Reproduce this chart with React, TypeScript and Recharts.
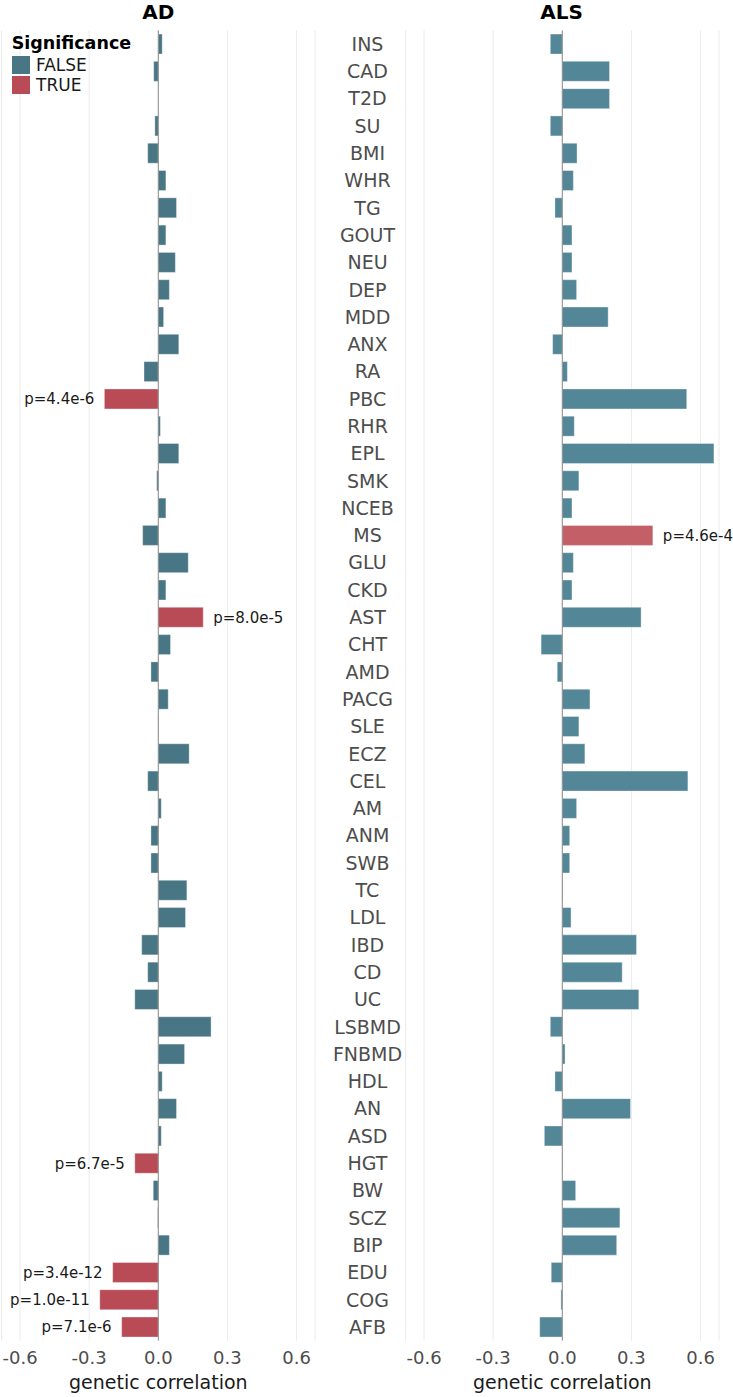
import React from 'react';
import {
  BarChart, Bar, XAxis, YAxis, CartesianGrid, ReferenceLine, Cell, LabelList,
} from 'recharts';

const categories = [
  'INS', 'CAD', 'T2D', 'SU', 'BMI', 'WHR', 'TG', 'GOUT', 'NEU', 'DEP', 'MDD', 'ANX',
  'RA', 'PBC', 'RHR', 'EPL', 'SMK', 'NCEB', 'MS', 'GLU', 'CKD', 'AST', 'CHT', 'AMD',
  'PACG', 'SLE', 'ECZ', 'CEL', 'AM', 'ANM', 'SWB', 'TC', 'LDL', 'IBD', 'CD', 'UC',
  'LSBMD', 'FNBMD', 'HDL', 'AN', 'ASD', 'HGT', 'BW', 'SCZ', 'BIP', 'EDU', 'COG', 'AFB',
];

// genetic correlation with AD
const adValues = [
  0.017, -0.02, 0.0, -0.015, -0.046, 0.033, 0.079, 0.033, 0.074, 0.048, 0.023, 0.089,
  -0.062, -0.234, 0.009, 0.089, -0.007, 0.033, -0.068, 0.13, 0.033, 0.195, 0.053, -0.032,
  0.043, 0.002, 0.134, -0.046, 0.013, -0.032, -0.032, 0.124, 0.118, -0.072, -0.046, -0.102,
  0.229, 0.114, 0.017, 0.079, 0.013, -0.102, -0.022, -0.003, 0.048, -0.198, -0.254, -0.159,
];

// genetic correlation with ALS
const alsValues = [
  -0.052, 0.205, 0.205, -0.052, 0.064, 0.048, -0.032, 0.042, 0.042, 0.062, 0.199, -0.042,
  0.022, 0.54, 0.052, 0.658, 0.072, 0.042, 0.393, 0.048, 0.042, 0.342, -0.092, -0.022,
  0.12, 0.072, 0.098, 0.545, 0.062, 0.032, 0.032, 0.003, 0.038, 0.322, 0.26, 0.332,
  -0.052, 0.012, -0.032, 0.296, -0.078, 0.003, 0.058, 0.25, 0.236, -0.048, -0.006, -0.098,
];

// p-value labels for the significant traits (null = not significant)
const adPValues: (string | null)[] = categories.map(() => null);
adPValues[13] = 'p=4.4e-6';
adPValues[21] = 'p=8.0e-5';
adPValues[41] = 'p=6.7e-5';
adPValues[45] = 'p=3.4e-12';
adPValues[46] = 'p=1.0e-11';
adPValues[47] = 'p=7.1e-6';

const alsPValues: (string | null)[] = categories.map(() => null);
alsPValues[18] = 'p=4.6e-4';

const xTicks = [-0.6, -0.3, 0, 0.3, 0.6];

const rows = categories.map((cat, i) => ({
  cat,
  ad: adValues[i],
  als: alsValues[i],
  adP: adPValues[i],
  alsP: alsPValues[i],
}));

const FONT = '"DejaVu Sans", sans-serif';
const LEFT_COLORS = { no: '#497684', yes: '#b84b56' };
const RIGHT_COLORS = { no: '#538797', yes: '#c35f67' };

const TOP = 30.35;
const AXIS_H = 56.35;
const H = 1397;
const DOMAIN: [number, number] = [-0.68, 0.68];

// text placed just past the end of the bar, on the side the bar points to
const makePLabel = (labels: (string | null)[], values: number[]) => (props: any) => {
  const { x, y, width, height, value } = props;
  if (!value) return null;
  const idx = labels.indexOf(value);
  const neg = idx >= 0 && values[idx] < 0;
  const a = Number(x);
  const b = Number(x) + Number(width);
  const cy = Number(y) + Number(height) / 2;
  return (
    <text
      x={neg ? Math.min(a, b) - 10 : Math.max(a, b) + 10}
      y={cy}
      dy="0.36em"
      textAnchor={neg ? 'end' : 'start'}
      fontSize={15}
      fill="#1a1a1a"
      fontFamily={FONT}
    >
      {value}
    </text>
  );
};

const adLabel = makePLabel(adPValues, adValues);
const alsLabel = makePLabel(alsPValues, alsValues);

const CatTick = (props: any) => {
  const { y, payload } = props;
  return (
    <text x={47.5} y={y} dy="0.36em" textAnchor="middle" fontSize={19} fill="#4d4d4d" fontFamily={FONT}>
      {payload.value}
    </text>
  );
};

const xAxisProps = {
  type: 'number' as const,
  domain: DOMAIN,
  ticks: xTicks,
  tickFormatter: (v: number) => v.toFixed(1),
  axisLine: false,
  tickLine: false,
  tickMargin: 5,
  height: AXIS_H,
  tick: { fontSize: 18, fill: '#4d4d4d', fontFamily: FONT },
  label: {
    value: 'genetic correlation',
    position: 'insideBottom' as const,
    offset: 8,
    fontSize: 19,
    fill: '#1a1a1a',
    fontFamily: FONT,
  },
};

export default function App() {
  return (
    <div style={{ position: 'absolute', left: 0, top: 0, width: 733, height: H, background: '#fff' }}>
      <div style={{ position: 'absolute', left: 0, top: 0 }}>
        <BarChart
          layout="vertical"
          width={320}
          height={H}
          data={rows}
          margin={{ top: TOP, right: 5, left: 1.6, bottom: 0 }}
          barCategoryGap="13.5%"
        >
          <CartesianGrid horizontal={false} stroke="#ebebeb" />
          <XAxis {...xAxisProps} />
          <YAxis type="category" dataKey="cat" hide />
          <ReferenceLine x={0} stroke="#8c8c8c" />
          <Bar dataKey="ad" isAnimationActive={false} stroke="#ffffff" strokeOpacity={0.35}>
            {rows.map((r, i) => (
              <Cell key={`ad-${i}`} fill={r.adP ? LEFT_COLORS.yes : LEFT_COLORS.no} />
            ))}
            <LabelList dataKey="adP" content={adLabel} />
          </Bar>
        </BarChart>
      </div>
      <div style={{ position: 'absolute', left: 320, top: 0 }}>
        <BarChart
          layout="vertical"
          width={413}
          height={H}
          data={rows}
          margin={{ top: TOP, right: 14, left: 0, bottom: 0 }}
          barCategoryGap="13.5%"
        >
          <CartesianGrid horizontal={false} stroke="#ebebeb" />
          <XAxis {...xAxisProps} />
          <YAxis
            type="category"
            dataKey="cat"
            width={85.6}
            axisLine={false}
            tickLine={false}
            interval={0}
            tick={<CatTick />}
          />
          <ReferenceLine x={0} stroke="#8c8c8c" />
          <Bar dataKey="als" isAnimationActive={false} stroke="#ffffff" strokeOpacity={0.35}>
            {rows.map((r, i) => (
              <Cell key={`als-${i}`} fill={r.alsP ? RIGHT_COLORS.yes : RIGHT_COLORS.no} />
            ))}
            <LabelList dataKey="alsP" content={alsLabel} />
          </Bar>
        </BarChart>
      </div>
      <svg
        width={733}
        height={120}
        style={{ position: 'absolute', left: 0, top: 0, pointerEvents: 'none' }}
        fontFamily={FONT}
      >
        <text x={158.3} y={18.5} textAnchor="middle" fontWeight="bold" fontSize={20} fill="#000">AD</text>
        <text x={561.5} y={19} textAnchor="middle" fontWeight="bold" fontSize={20} fill="#000">ALS</text>
        <text x={11.7} y={49.3} fontWeight="bold" fontSize={17.5} fill="#000">Significance</text>
        <rect x={12} y={56} width={18} height={18} fill={LEFT_COLORS.no} />
        <rect x={12} y={76} width={18} height={18} fill={LEFT_COLORS.yes} />
        <text x={36} y={71} fontSize={17} fill="#1a1a1a">FALSE</text>
        <text x={36} y={91} fontSize={17} fill="#1a1a1a">TRUE</text>
      </svg>
    </div>
  );
}
